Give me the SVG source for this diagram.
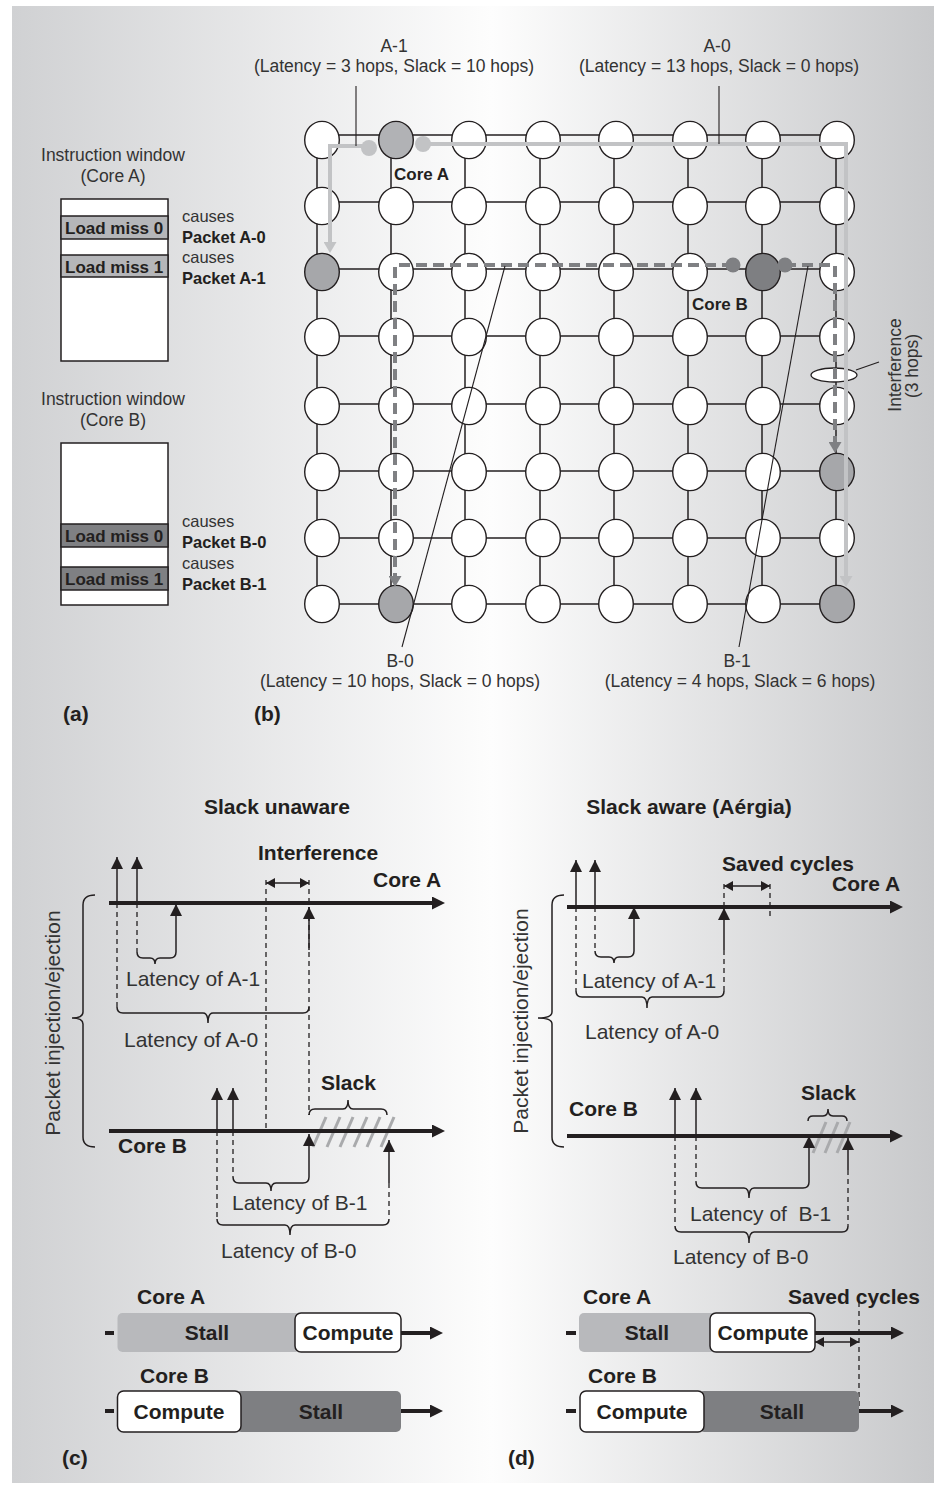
<svg xmlns="http://www.w3.org/2000/svg" xmlns:xlink="http://www.w3.org/1999/xlink" width="945" height="1493" viewBox="0 0 945 1493">
<defs>
<linearGradient id="bg" x1="0" y1="0" x2="1" y2="0">
<stop offset="0" stop-color="#d0d1d3"/>
<stop offset="0.52" stop-color="#fdfdfd"/>
<stop offset="1" stop-color="#c8c9cb"/>
</linearGradient>
<ellipse id="nd" cx="0" cy="0" rx="17.3" ry="18.6" stroke="#231f20" stroke-width="1.4"/>
<marker id="ah" viewBox="0 0 12 12" markerUnits="userSpaceOnUse" markerWidth="12" markerHeight="12" refX="12" refY="6" orient="auto"><path d="M0,0 L12,6 L0,12 z" fill="#231f20"/></marker>
<marker id="ahT" viewBox="0 0 13 13" markerUnits="userSpaceOnUse" markerWidth="13" markerHeight="13" refX="3" refY="6.5" orient="auto"><path d="M0,0 L13,6.5 L0,13 z" fill="#231f20"/></marker>
<marker id="ahS" viewBox="0 0 9 10" markerUnits="userSpaceOnUse" markerWidth="9" markerHeight="10" refX="9" refY="5" orient="auto-start-reverse"><path d="M0,0 L9,5 L0,10 z" fill="#231f20"/></marker>
<marker id="ahG" viewBox="0 0 11 13" markerUnits="userSpaceOnUse" markerWidth="11" markerHeight="13" refX="3" refY="6.5" orient="auto"><path d="M0,0 L11,6.5 L0,13 z" fill="#c2c3c5"/></marker>
<marker id="ahD" viewBox="0 0 11 13" markerUnits="userSpaceOnUse" markerWidth="11" markerHeight="13" refX="3" refY="6.5" orient="auto"><path d="M0,0 L11,6.5 L0,13 z" fill="#7f8083"/></marker>
</defs>
<style>
text{font-family:"Liberation Sans",Arial,Helvetica,sans-serif}
.r{fill:#333;font-size:17.5px}
.b{fill:#231f20;font-weight:bold;font-size:17px}
.s{font-size:16.5px}
.r21{fill:#333;font-size:21px}
.b21{fill:#231f20;font-weight:bold;font-size:21px}
.m{text-anchor:middle}
.w{fill:#fff}
.ca{fill:#b1b2b5}
.dst{fill:#a6a7aa}
.cb{fill:#7e7f82}
.grid line{stroke:#231f20;stroke-width:1.5}
.thin{stroke:#231f20;stroke-width:1.5;fill:none}
.dash{stroke:#231f20;stroke-width:1.3;fill:none;stroke-dasharray:5 4}
.brace{stroke:#231f20;stroke-width:1.5;fill:none}
.tl{stroke:#231f20;stroke-width:4;fill:none}
.hatch{stroke:#a9aaac;stroke-width:3}
.box{stroke:#231f20;stroke-width:1.5}
.lead{stroke:#231f20;stroke-width:1.1;fill:none}
.pa{stroke:#c2c3c5;stroke-width:4;fill:none}
.pb{stroke:#7f8083;stroke-width:4;fill:none;stroke-dasharray:11 6}
</style>
<rect width="945" height="1493" fill="#fff"/>
<rect x="12" y="6" width="922" height="1477" fill="url(#bg)"/>

<!-- Panel (a) -->
<g id="window-a">
<text class="r m" x="113" y="161">Instruction window</text>
<text class="r m" x="113" y="182">(Core A)</text>
<rect class="box" x="61" y="199" width="107" height="162" fill="#fff"/>
<rect class="box" x="61" y="216" width="107" height="23" fill="#b5b6b9"/>
<rect class="box" x="61" y="255" width="107" height="22" fill="#b5b6b9"/>
<text class="b" x="65" y="234">Load miss 0</text>
<text class="b" x="65" y="273">Load miss 1</text>
<text class="r s" x="182" y="222">causes</text>
<text class="b s" x="182" y="243">Packet A-0</text>
<text class="r s" x="182" y="263">causes</text>
<text class="b s" x="182" y="284">Packet A-1</text>
</g>
<g id="window-b">
<text class="r m" x="113" y="405">Instruction window</text>
<text class="r m" x="113" y="426">(Core B)</text>
<rect class="box" x="61" y="443" width="107" height="162" fill="#fff"/>
<rect class="box" x="61" y="524" width="107" height="23" fill="#7f8083"/>
<rect class="box" x="61" y="567" width="107" height="23" fill="#7f8083"/>
<text class="b" x="65" y="542">Load miss 0</text>
<text class="b" x="65" y="585">Load miss 1</text>
<text class="r s" x="182" y="527">causes</text>
<text class="b s" x="182" y="548">Packet B-0</text>
<text class="r s" x="182" y="569">causes</text>
<text class="b s" x="182" y="590">Packet B-1</text>
</g>
<text class="b21" x="63" y="721">(a)</text>
<text class="b21" x="254" y="721">(b)</text>

<!-- Panel (b) grid links -->
<g class="grid" id="mesh-links">
<line x1="317" y1="135" x2="836" y2="135"/>
<line x1="317" y1="202" x2="836" y2="202"/>
<line x1="317" y1="269" x2="836" y2="269"/>
<line x1="317" y1="336" x2="836" y2="336"/>
<line x1="317" y1="404" x2="836" y2="404"/>
<line x1="317" y1="471" x2="836" y2="471"/>
<line x1="317" y1="538" x2="836" y2="538"/>
<line x1="317" y1="604" x2="836" y2="604"/>
<line x1="317" y1="135" x2="317" y2="604"/>
<line x1="391" y1="135" x2="391" y2="604"/>
<line x1="465" y1="135" x2="465" y2="604"/>
<line x1="540" y1="135" x2="540" y2="604"/>
<line x1="614" y1="135" x2="614" y2="604"/>
<line x1="688" y1="135" x2="688" y2="604"/>
<line x1="762" y1="135" x2="762" y2="604"/>
<line x1="836" y1="135" x2="836" y2="604"/>
</g>

<!-- nodes -->
<g id="r1c1"><use href="#nd" class="w" x="322" y="140"/></g>
<g id="r1c2-coreA"><use href="#nd" class="ca" x="396" y="140"/></g>
<g id="r1c3"><use href="#nd" class="w" x="469" y="140"/></g>
<g id="r1c4"><use href="#nd" class="w" x="543" y="140"/></g>
<g id="r1c5"><use href="#nd" class="w" x="616" y="140"/></g>
<g id="r1c6"><use href="#nd" class="w" x="690" y="140"/></g>
<g id="r1c7"><use href="#nd" class="w" x="763" y="140"/></g>
<g id="r1c8"><use href="#nd" class="w" x="837" y="140"/></g>
<g id="r2c1"><use href="#nd" class="w" x="322" y="206"/></g>
<g id="r2c2"><use href="#nd" class="w" x="396" y="206"/></g>
<g id="r2c3"><use href="#nd" class="w" x="469" y="206"/></g>
<g id="r2c4"><use href="#nd" class="w" x="543" y="206"/></g>
<g id="r2c5"><use href="#nd" class="w" x="616" y="206"/></g>
<g id="r2c6"><use href="#nd" class="w" x="690" y="206"/></g>
<g id="r2c7"><use href="#nd" class="w" x="763" y="206"/></g>
<g id="r2c8"><use href="#nd" class="w" x="837" y="206"/></g>
<g id="r3c1"><use href="#nd" class="dst" x="322" y="272"/></g>
<g id="r3c2"><use href="#nd" class="w" x="396" y="272"/></g>
<g id="r3c3"><use href="#nd" class="w" x="469" y="272"/></g>
<g id="r3c4"><use href="#nd" class="w" x="543" y="272"/></g>
<g id="r3c5"><use href="#nd" class="w" x="616" y="272"/></g>
<g id="r3c6"><use href="#nd" class="w" x="690" y="272"/></g>
<g id="r3c7-coreB"><use href="#nd" class="cb" x="763" y="272"/></g>
<g id="r3c8"><use href="#nd" class="w" x="837" y="272"/></g>
<g id="r4c1"><use href="#nd" class="w" x="322" y="337"/></g>
<g id="r4c2"><use href="#nd" class="w" x="396" y="337"/></g>
<g id="r4c3"><use href="#nd" class="w" x="469" y="337"/></g>
<g id="r4c4"><use href="#nd" class="w" x="543" y="337"/></g>
<g id="r4c5"><use href="#nd" class="w" x="616" y="337"/></g>
<g id="r4c6"><use href="#nd" class="w" x="690" y="337"/></g>
<g id="r4c7"><use href="#nd" class="w" x="763" y="337"/></g>
<g id="r4c8"><use href="#nd" class="w" x="837" y="337"/></g>
<g id="r5c1"><use href="#nd" class="w" x="322" y="406"/></g>
<g id="r5c2"><use href="#nd" class="w" x="396" y="406"/></g>
<g id="r5c3"><use href="#nd" class="w" x="469" y="406"/></g>
<g id="r5c4"><use href="#nd" class="w" x="543" y="406"/></g>
<g id="r5c5"><use href="#nd" class="w" x="616" y="406"/></g>
<g id="r5c6"><use href="#nd" class="w" x="690" y="406"/></g>
<g id="r5c7"><use href="#nd" class="w" x="763" y="406"/></g>
<g id="r5c8"><use href="#nd" class="w" x="837" y="406"/></g>
<g id="r6c1"><use href="#nd" class="w" x="322" y="472"/></g>
<g id="r6c2"><use href="#nd" class="w" x="396" y="472"/></g>
<g id="r6c3"><use href="#nd" class="w" x="469" y="472"/></g>
<g id="r6c4"><use href="#nd" class="w" x="543" y="472"/></g>
<g id="r6c5"><use href="#nd" class="w" x="616" y="472"/></g>
<g id="r6c6"><use href="#nd" class="w" x="690" y="472"/></g>
<g id="r6c7"><use href="#nd" class="w" x="763" y="472"/></g>
<g id="r6c8"><use href="#nd" class="dst" x="837" y="472"/></g>
<g id="r7c1"><use href="#nd" class="w" x="322" y="538"/></g>
<g id="r7c2"><use href="#nd" class="w" x="396" y="538"/></g>
<g id="r7c3"><use href="#nd" class="w" x="469" y="538"/></g>
<g id="r7c4"><use href="#nd" class="w" x="543" y="538"/></g>
<g id="r7c5"><use href="#nd" class="w" x="616" y="538"/></g>
<g id="r7c6"><use href="#nd" class="w" x="690" y="538"/></g>
<g id="r7c7"><use href="#nd" class="w" x="763" y="538"/></g>
<g id="r7c8"><use href="#nd" class="w" x="837" y="538"/></g>
<g id="r8c1"><use href="#nd" class="w" x="322" y="604"/></g>
<g id="r8c2"><use href="#nd" class="dst" x="396" y="604"/></g>
<g id="r8c3"><use href="#nd" class="w" x="469" y="604"/></g>
<g id="r8c4"><use href="#nd" class="w" x="543" y="604"/></g>
<g id="r8c5"><use href="#nd" class="w" x="616" y="604"/></g>
<g id="r8c6"><use href="#nd" class="w" x="690" y="604"/></g>
<g id="r8c7"><use href="#nd" class="w" x="763" y="604"/></g>
<g id="r8c8"><use href="#nd" class="dst" x="837" y="604"/></g>

<g id="interference-mark">
<ellipse cx="834" cy="375" rx="23" ry="7" fill="#fff" stroke="#231f20" stroke-width="1.3"/>
</g>

<!-- packet routes -->
<g id="routes">
<polyline class="pa" points="369,146 330,146 330,245" marker-end="url(#ahG)"/>
<polyline class="pa" points="423,144 846,144 846,579" marker-end="url(#ahG)"/>
<polyline class="pb" points="733,265 395,265 395,579" marker-end="url(#ahD)"/>
<polyline class="pb" points="785,265 835,265 835,445" marker-end="url(#ahD)"/>
<circle cx="369" cy="148" r="8" fill="#c2c3c5"/>
<circle cx="423" cy="144" r="8" fill="#c2c3c5"/>
<circle cx="733" cy="265" r="7.5" fill="#7f8083"/>
<circle cx="785" cy="265" r="7.5" fill="#7f8083"/>
<line class="lead" x1="356" y1="86" x2="356" y2="146"/>
<line class="lead" x1="719" y1="86" x2="719" y2="144"/>
<line class="lead" x1="505" y1="266" x2="402" y2="647"/>
<line class="lead" x1="808" y1="266" x2="739" y2="647"/>
<line class="lead" x1="856" y1="370" x2="879" y2="362"/>
</g>

<g id="grid-labels">
<text class="b" x="394" y="180">Core A</text>
<text class="b" x="692" y="310">Core B</text>
<text class="r m" x="394" y="52">A-1</text>
<text class="r m" x="394" y="72">(Latency = 3 hops, Slack = 10 hops)</text>
<text class="r m" x="717" y="52">A-0</text>
<text class="r m" x="719" y="72">(Latency = 13 hops, Slack = 0 hops)</text>
<text class="r m" x="400" y="667">B-0</text>
<text class="r m" x="400" y="687">(Latency = 10 hops, Slack = 0 hops)</text>
<text class="r m" x="737" y="667">B-1</text>
<text class="r m" x="740" y="687">(Latency = 4 hops, Slack = 6 hops)</text>
<text class="r m" transform="translate(901,365) rotate(-90)">Interference</text>
<text class="r m" transform="translate(918,366) rotate(-90)">(3 hops)</text>
</g>

<!-- Panel (c) -->
<g id="panel-c-timelines">
<text class="b21 m" x="277" y="814">Slack unaware</text>
<line class="hatch" x1="313" y1="1147" x2="326" y2="1117"/>
<line class="hatch" x1="327" y1="1147" x2="340" y2="1117"/>
<line class="hatch" x1="340" y1="1147" x2="353" y2="1117"/>
<line class="hatch" x1="354" y1="1147" x2="367" y2="1117"/>
<line class="hatch" x1="367" y1="1147" x2="380" y2="1117"/>
<line class="hatch" x1="381" y1="1147" x2="394" y2="1117"/>
<line class="tl" x1="109" y1="903" x2="435" y2="903" marker-end="url(#ahT)"/>
<line class="tl" x1="109" y1="1131" x2="435" y2="1131" marker-end="url(#ahT)"/>
<text class="b21" x="258" y="860">Interference</text>
<text class="b21" x="373" y="887">Core A</text>
<text class="b21" x="118" y="1153">Core B</text>
<text class="b21" x="321" y="1090">Slack</text>
<line class="dash" x1="117" y1="903" x2="117" y2="1007"/>
<line class="dash" x1="137" y1="903" x2="137" y2="952"/>
<line class="dash" x1="266" y1="880" x2="266" y2="1131"/>
<line class="dash" x1="309" y1="880" x2="309" y2="1115"/>
<line class="dash" x1="217" y1="1131" x2="217" y2="1219"/>
<line class="dash" x1="233" y1="1131" x2="233" y2="1177"/>
<line class="dash" x1="389" y1="1183" x2="389" y2="1219"/>
<line class="thin" x1="117" y1="903" x2="117" y2="857" marker-end="url(#ah)"/>
<line class="thin" x1="137" y1="903" x2="137" y2="857" marker-end="url(#ah)"/>
<line class="thin" x1="176" y1="952" x2="176" y2="904" marker-end="url(#ah)"/>
<line class="thin" x1="309" y1="950" x2="309" y2="907" marker-end="url(#ah)"/>
<line class="thin" x1="217" y1="1131" x2="217" y2="1088" marker-end="url(#ah)"/>
<line class="thin" x1="233" y1="1131" x2="233" y2="1088" marker-end="url(#ah)"/>
<line class="thin" x1="309" y1="1177" x2="309" y2="1134" marker-end="url(#ah)"/>
<line class="thin" x1="389" y1="1183" x2="389" y2="1140" marker-end="url(#ah)"/>
<line class="thin" x1="266" y1="883" x2="309" y2="883" marker-start="url(#ahS)" marker-end="url(#ahS)"/>
<path class="brace" d="M137,952 Q137,958 143,958 H150 Q155,958 155,964 Q155,958 160,958 H170 Q176,958 176,952"/>
<path class="brace" d="M117,1007 Q117,1013 123,1013 H203 Q208,1013 208,1023 Q208,1013 213,1013 H303 Q309,1013 309,1007"/>
<path class="brace" d="M233,1177 Q233,1183 239,1183 H266 Q271,1183 271,1191 Q271,1183 276,1183 H303 Q309,1183 309,1177"/>
<path class="brace" d="M217,1219 Q217,1225 223,1225 H285 Q290,1225 290,1235 Q290,1225 295,1225 H383 Q389,1225 389,1219"/>
<path class="brace" d="M309,1115 Q309,1109 315,1109 H343 Q348,1109 348,1100 Q348,1109 353,1109 H381 Q387,1109 387,1115"/>
<path class="brace" d="M95,895 Q83,895 83,905 V1012 Q83,1018 72,1018 Q83,1018 83,1024 V1137 Q83,1147 95,1147"/>
<text class="r21" x="126" y="986">Latency of A-1</text>
<text class="r21" x="124" y="1047">Latency of A-0</text>
<text class="r21" x="232" y="1210">Latency of B-1</text>
<text class="r21" x="221" y="1258">Latency of B-0</text>
<text class="r21 m" transform="translate(60,1023) rotate(-90)">Packet injection/ejection</text>
</g>

<!-- Panel (d) -->
<g id="panel-d-timelines">
<text class="b21 m" x="689" y="814">Slack aware (Aérgia)</text>
<line class="hatch" x1="813" y1="1153" x2="826" y2="1122"/>
<line class="hatch" x1="825" y1="1153" x2="838" y2="1122"/>
<line class="hatch" x1="837" y1="1153" x2="850" y2="1122"/>
<line class="tl" x1="567" y1="907" x2="893" y2="907" marker-end="url(#ahT)"/>
<line class="tl" x1="567" y1="1136" x2="893" y2="1136" marker-end="url(#ahT)"/>
<text class="b21" x="722" y="871">Saved cycles</text>
<text class="b21" x="832" y="891">Core A</text>
<text class="b21" x="569" y="1116">Core B</text>
<text class="b21" x="801" y="1100">Slack</text>
<line class="dash" x1="576" y1="907" x2="576" y2="991"/>
<line class="dash" x1="595" y1="907" x2="595" y2="951"/>
<line class="dash" x1="724" y1="884" x2="724" y2="907"/>
<line class="dash" x1="724" y1="950" x2="724" y2="991"/>
<line class="dash" x1="770" y1="884" x2="770" y2="920"/>
<line class="dash" x1="675" y1="1136" x2="675" y2="1226"/>
<line class="dash" x1="696" y1="1136" x2="696" y2="1182"/>
<line class="dash" x1="848" y1="1170" x2="848" y2="1226"/>
<line class="thin" x1="576" y1="907" x2="576" y2="860" marker-end="url(#ah)"/>
<line class="thin" x1="595" y1="907" x2="595" y2="860" marker-end="url(#ah)"/>
<line class="thin" x1="634" y1="951" x2="634" y2="907" marker-end="url(#ah)"/>
<line class="thin" x1="724" y1="950" x2="724" y2="908" marker-end="url(#ah)"/>
<line class="thin" x1="675" y1="1136" x2="675" y2="1088" marker-end="url(#ah)"/>
<line class="thin" x1="696" y1="1136" x2="696" y2="1088" marker-end="url(#ah)"/>
<line class="thin" x1="809" y1="1182" x2="809" y2="1136" marker-end="url(#ah)"/>
<line class="thin" x1="848" y1="1170" x2="848" y2="1138" marker-end="url(#ah)"/>
<line class="thin" x1="724" y1="886" x2="770" y2="886" marker-start="url(#ahS)" marker-end="url(#ahS)"/>
<path class="brace" d="M595,951 Q595,957 601,957 H609 Q614,957 614,963 Q614,957 619,957 H628 Q634,957 634,951"/>
<path class="brace" d="M576,991 Q576,997 582,997 H642 Q647,997 647,1008 Q647,997 652,997 H718 Q724,997 724,991"/>
<path class="brace" d="M696,1182 Q696,1188 702,1188 H744 Q749,1188 749,1198 Q749,1188 754,1188 H803 Q809,1188 809,1182"/>
<path class="brace" d="M675,1226 Q675,1232 681,1232 H744 Q749,1232 749,1243 Q749,1232 754,1232 H842 Q848,1232 848,1226"/>
<path class="brace" d="M808,1121 Q808,1116 813,1116 H823 Q828,1116 828,1109 Q828,1116 833,1116 H842 Q847,1116 847,1121"/>
<path class="brace" d="M564,895 Q552,895 552,905 V1012 Q552,1018 538,1018 Q552,1018 552,1024 V1137 Q552,1147 564,1147"/>
<text class="r21" x="582" y="988">Latency of A-1</text>
<text class="r21" x="585" y="1039">Latency of A-0</text>
<text class="r21" x="690" y="1221" xml:space="preserve">Latency of  B-1</text>
<text class="r21" x="673" y="1264">Latency of B-0</text>
<text class="r21 m" transform="translate(528,1021) rotate(-90)">Packet injection/ejection</text>
</g>

<!-- Bottom bars (c) -->
<g id="bars-c">
<text class="b21" x="137" y="1304">Core A</text>
<line class="tl" x1="105" y1="1333" x2="114" y2="1333"/>
<rect x="117.5" y="1313" width="183" height="39" rx="5" fill="#b8b9bc"/>
<rect class="box" x="295" y="1313" width="106" height="39" rx="6" fill="#fff"/>
<line class="tl" x1="401" y1="1333" x2="433" y2="1333" marker-end="url(#ahT)"/>
<text class="b21 m" x="207" y="1340">Stall</text>
<text class="b21 m" x="348" y="1340">Compute</text>
<text class="b21" x="140" y="1383">Core B</text>
<line class="tl" x1="105" y1="1411" x2="114" y2="1411"/>
<rect x="236" y="1391" width="165" height="41" rx="5" fill="#7e7f82"/>
<rect class="box" x="117.5" y="1391" width="123.5" height="41" rx="6" fill="#fff"/>
<line class="tl" x1="401" y1="1411" x2="433" y2="1411" marker-end="url(#ahT)"/>
<text class="b21 m" x="179" y="1419">Compute</text>
<text class="b21 m" x="321" y="1419">Stall</text>
<text class="b21" x="62" y="1465">(c)</text>
</g>

<!-- Bottom bars (d) -->
<g id="bars-d">
<text class="b21" x="583" y="1304">Core A</text>
<text class="b21" x="788" y="1304">Saved cycles</text>
<line class="tl" x1="566" y1="1333" x2="576" y2="1333"/>
<rect x="579" y="1313" width="137" height="39" rx="5" fill="#b8b9bc"/>
<rect class="box" x="710" y="1313" width="105" height="39" rx="6" fill="#fff"/>
<line class="tl" x1="815" y1="1333" x2="894" y2="1333" marker-end="url(#ahT)"/>
<text class="b21 m" x="647" y="1340">Stall</text>
<text class="b21 m" x="763" y="1340">Compute</text>
<line class="dash" x1="859" y1="1302" x2="859" y2="1410"/>
<line class="thin" x1="815" y1="1342" x2="859" y2="1342" marker-start="url(#ahS)" marker-end="url(#ahS)"/>
<text class="b21" x="588" y="1383">Core B</text>
<line class="tl" x1="566" y1="1411" x2="576" y2="1411"/>
<rect x="699" y="1391" width="160" height="41" rx="5" fill="#7e7f82"/>
<rect class="box" x="580" y="1391" width="124" height="41" rx="6" fill="#fff"/>
<line class="tl" x1="859" y1="1411" x2="894" y2="1411" marker-end="url(#ahT)"/>
<text class="b21 m" x="642" y="1419">Compute</text>
<text class="b21 m" x="782" y="1419">Stall</text>
<text class="b21" x="508" y="1465">(d)</text>
</g>
</svg>
